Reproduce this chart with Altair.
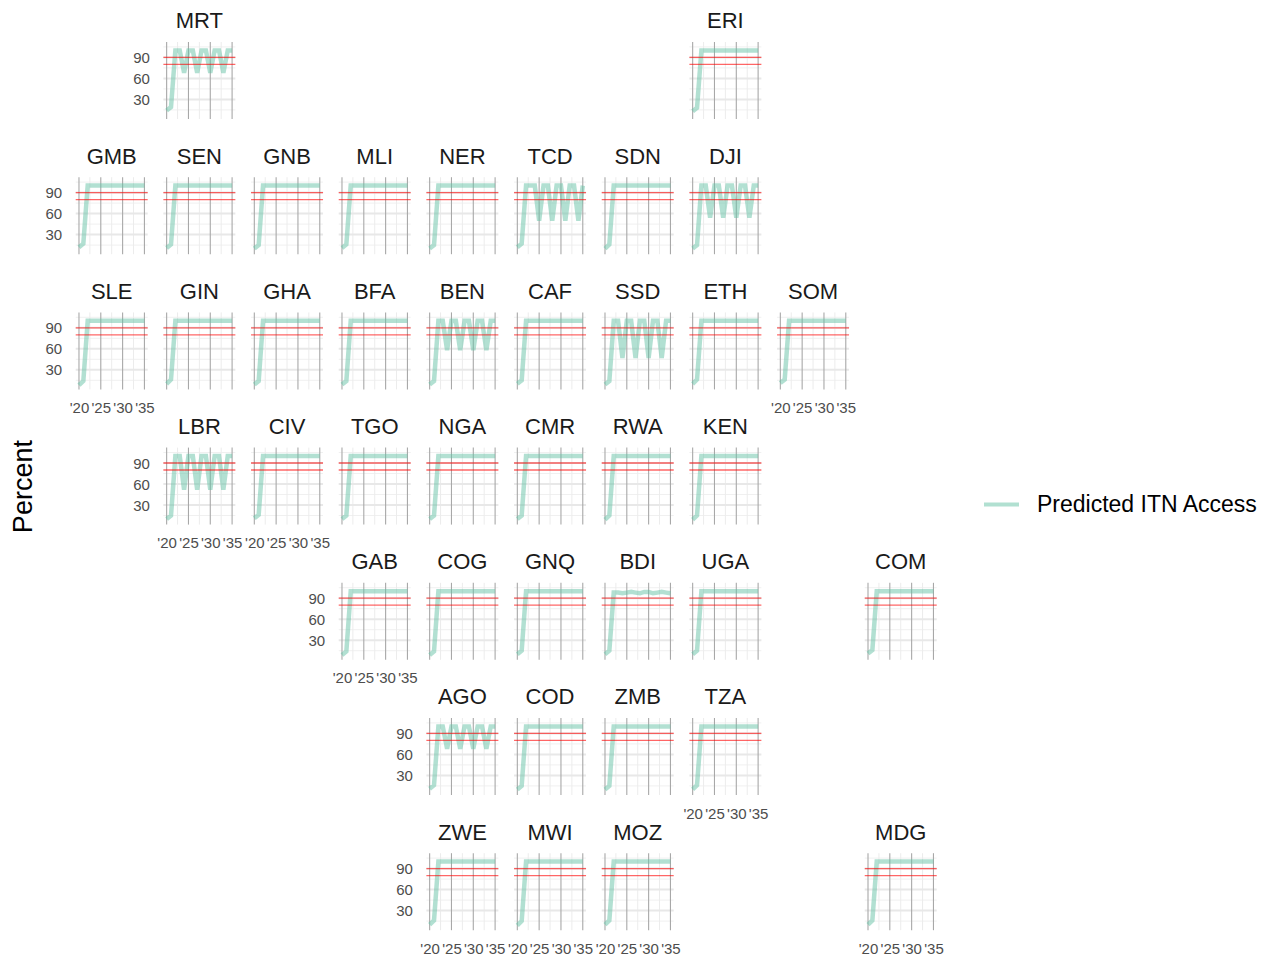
import altair as alt
import pandas as pd

# ---------------- data ----------------
YEARS = [2020, 2021, 2022, 2023, 2024, 2025, 2026, 2027, 2028, 2029, 2030, 2031, 2032, 2033, 2034, 2035]

MRT = [14, 19, 100, 100, 68, 100, 100, 68, 100, 100, 68, 100, 100, 68, 100, 100]
ERI = [13, 18, 100, 100, 100, 100, 100, 100, 100, 100, 100, 100, 100, 100, 100, 100]
GMB = [12, 17, 100, 100, 100, 100, 100, 100, 100, 100, 100, 100, 100, 100, 100, 100]
SEN = [11, 16, 100, 100, 100, 100, 100, 100, 100, 100, 100, 100, 100, 100, 100, 100]
GNB = [10, 15, 100, 100, 100, 100, 100, 100, 100, 100, 100, 100, 100, 100, 100, 100]
MLI = [11, 16, 100, 100, 100, 100, 100, 100, 100, 100, 100, 100, 100, 100, 100, 100]
NER = [10, 15, 100, 100, 100, 100, 100, 100, 100, 100, 100, 100, 100, 100, 100, 100]
TCD = [12, 17, 100, 100, 100, 50, 100, 100, 50, 100, 100, 50, 100, 100, 50, 100]
SDN = [10, 16, 100, 100, 100, 100, 100, 100, 100, 100, 100, 100, 100, 100, 100, 100]
DJI = [10, 15, 100, 100, 54, 100, 100, 54, 100, 100, 54, 100, 100, 54, 100, 100]
SLE = [8, 14, 100, 100, 100, 100, 100, 100, 100, 100, 100, 100, 100, 100, 100, 100]
GIN = [10, 16, 100, 100, 100, 100, 100, 100, 100, 100, 100, 100, 100, 100, 100, 100]
GHA = [9, 14, 100, 100, 100, 100, 100, 100, 100, 100, 100, 100, 100, 100, 100, 100]
BFA = [9, 14, 100, 100, 100, 100, 100, 100, 100, 100, 100, 100, 100, 100, 100, 100]
BEN = [9, 14, 100, 100, 58, 100, 100, 58, 100, 100, 58, 100, 100, 58, 100, 100]
CAF = [10, 15, 100, 100, 100, 100, 100, 100, 100, 100, 100, 100, 100, 100, 100, 100]
SSD = [9, 14, 100, 100, 47, 100, 100, 47, 100, 100, 47, 100, 100, 47, 100, 100]
ETH = [10, 16, 100, 100, 100, 100, 100, 100, 100, 100, 100, 100, 100, 100, 100, 100]
SOM = [11, 16, 100, 100, 100, 100, 100, 100, 100, 100, 100, 100, 100, 100, 100, 100]
LBR = [10, 15, 100, 100, 52, 100, 100, 52, 100, 100, 52, 100, 100, 52, 100, 100]
CIV = [11, 16, 100, 100, 100, 100, 100, 100, 100, 100, 100, 100, 100, 100, 100, 100]
TGO = [10, 15, 100, 100, 100, 100, 100, 100, 100, 100, 100, 100, 100, 100, 100, 100]
NGA = [10, 15, 100, 100, 100, 100, 100, 100, 100, 100, 100, 100, 100, 100, 100, 100]
CMR = [10, 15, 100, 100, 100, 100, 100, 100, 100, 100, 100, 100, 100, 100, 100, 100]
RWA = [9, 15, 100, 100, 100, 100, 100, 100, 100, 100, 100, 100, 100, 100, 100, 100]
KEN = [9, 15, 100, 100, 100, 100, 100, 100, 100, 100, 100, 100, 100, 100, 100, 100]
GAB = [9, 14, 100, 100, 100, 100, 100, 100, 100, 100, 100, 100, 100, 100, 100, 100]
COG = [9, 14, 100, 100, 100, 100, 100, 100, 100, 100, 100, 100, 100, 100, 100, 100]
GNQ = [10, 15, 100, 100, 100, 100, 100, 100, 100, 100, 100, 100, 100, 100, 100, 100]
BDI = [10, 15, 98, 98, 97, 98, 99, 98, 97, 99, 99, 97, 98, 99, 98, 97]
UGA = [10, 15, 100, 100, 100, 100, 100, 100, 100, 100, 100, 100, 100, 100, 100, 100]
COM = [11, 16, 100, 100, 100, 100, 100, 100, 100, 100, 100, 100, 100, 100, 100, 100]
AGO = [11, 16, 100, 100, 68, 100, 100, 68, 100, 100, 68, 100, 100, 68, 100, 100]
COD = [10, 15, 100, 100, 100, 100, 100, 100, 100, 100, 100, 100, 100, 100, 100, 100]
ZMB = [10, 15, 100, 100, 100, 100, 100, 100, 100, 100, 100, 100, 100, 100, 100, 100]
TZA = [10, 16, 100, 100, 100, 100, 100, 100, 100, 100, 100, 100, 100, 100, 100, 100]
ZWE = [10, 16, 100, 100, 100, 100, 100, 100, 100, 100, 100, 100, 100, 100, 100, 100]
MWI = [9, 15, 100, 100, 100, 100, 100, 100, 100, 100, 100, 100, 100, 100, 100, 100]
MOZ = [10, 16, 100, 100, 100, 100, 100, 100, 100, 100, 100, 100, 100, 100, 100, 100]
MDG = [10, 16, 100, 100, 100, 100, 100, 100, 100, 100, 100, 100, 100, 100, 100, 100]

CODES = ["MRT", "ERI",
         "GMB", "SEN", "GNB", "MLI", "NER", "TCD", "SDN", "DJI",
         "SLE", "GIN", "GHA", "BFA", "BEN", "CAF", "SSD", "ETH", "SOM",
         "LBR", "CIV", "TGO", "NGA", "CMR", "RWA", "KEN",
         "GAB", "COG", "GNQ", "BDI", "UGA", "COM",
         "AGO", "COD", "ZMB", "TZA",
         "ZWE", "MWI", "MOZ", "MDG"]
SERIES = [MRT, ERI,
          GMB, SEN, GNB, MLI, NER, TCD, SDN, DJI,
          SLE, GIN, GHA, BFA, BEN, CAF, SSD, ETH, SOM,
          LBR, CIV, TGO, NGA, CMR, RWA, KEN,
          GAB, COG, GNQ, BDI, UGA, COM,
          AGO, COD, ZMB, TZA,
          ZWE, MWI, MOZ, MDG]
# geofacet grid (row, col)
GRID_ROW = [0, 0,
            1, 1, 1, 1, 1, 1, 1, 1,
            2, 2, 2, 2, 2, 2, 2, 2, 2,
            3, 3, 3, 3, 3, 3, 3,
            4, 4, 4, 4, 4, 4,
            5, 5, 5, 5,
            6, 6, 6, 6]
GRID_COL = [1, 7,
            0, 1, 2, 3, 4, 5, 6, 7,
            0, 1, 2, 3, 4, 5, 6, 7, 8,
            1, 2, 3, 4, 5, 6, 7,
            3, 4, 5, 6, 7, 9,
            4, 5, 6, 7,
            4, 5, 6, 9]

TARGETS = [80, 90]
X_MAJOR = [2020, 2025, 2030, 2035]
X_MINOR = [2022.5, 2027.5, 2032.5]
Y_MAJOR = [30, 60, 90]
Y_MINOR = [15, 45, 75, 105]
SERIES_NAME = "Predicted ITN Access"

# ---------------- build tables ----------------
recs = []
for code, vals in zip(CODES, SERIES):
    for yr, v in zip(YEARS, vals):
        recs.append({"country": code, "year": yr, "value": v, "series": SERIES_NAME})
df = pd.DataFrame(recs)
df_xmaj = pd.DataFrame({"x": X_MAJOR})
df_xmin = pd.DataFrame({"x": X_MINOR})
df_ymaj = pd.DataFrame({"y": Y_MAJOR})
df_ymin = pd.DataFrame({"y": Y_MINOR})
df_tgt = pd.DataFrame({"y": TARGETS})
blank_df = pd.DataFrame({"v": [0]})

FONT = "Liberation Sans"
W, H = 72, 77
NROW, NCOL = 7, 10
SP_ROW, SP_COL = 58.2, 15.67
GRID_H = NROW * H + (NROW - 1) * SP_ROW
XDOM = [2019.25, 2035.75]
YDOM = [2, 112]

pos = {(r, c): code for code, r, c in zip(CODES, GRID_ROW, GRID_COL)}
first_in_row = {}
last_in_col = {}
for code, r, c in zip(CODES, GRID_ROW, GRID_COL):
    if r not in first_in_row or c < first_in_row[r][1]:
        first_in_row[r] = (code, c)
    if c not in last_in_col or r > last_in_col[c][1]:
        last_in_col[c] = (code, r)
show_y = {v[0] for v in first_in_row.values()}
show_x = {v[0] for v in last_in_col.values()}

color_scale = alt.Scale(domain=[SERIES_NAME], range=["#66c2a5"])
legend = alt.Legend(title=None, orient="none", legendX=937, legendY=443,
                    symbolType="stroke", symbolStrokeWidth=4, symbolOpacity=0.5,
                    symbolSize=1225, labelFontSize=23, labelFont=FONT, labelLimit=500,
                    labelColor="black", labelOffset=16)


def panel(code):
    xs = alt.Scale(domain=XDOM, nice=False, zero=False)
    ys = alt.Scale(domain=YDOM, nice=False, zero=False)
    if code in show_x:
        xax = alt.Axis(values=X_MAJOR, labelExpr="\"'\" + substring(toString(datum.value), 2, 4)",
                       ticks=False, domain=False, grid=False, title=None, labelPadding=11,
                       labelFontSize=15, labelColor="#4d4d4d", labelFont=FONT, labelOverlap=False,
                       labelFlush=False)
    else:
        xax = None
    if code in show_y:
        yax = alt.Axis(values=Y_MAJOR, ticks=False, domain=False, grid=False, title=None,
                       labelPadding=14, labelFontSize=15, labelColor="#4d4d4d", labelFont=FONT)
    else:
        yax = None

    vmin = alt.Chart(df_xmin).mark_rule(color="#ececec", strokeWidth=1).encode(
        x=alt.X("x:Q", scale=xs, axis=xax))
    hmin = alt.Chart(df_ymin).mark_rule(color="#f0f0f0", strokeWidth=1).encode(
        y=alt.Y("y:Q", scale=ys, axis=yax))
    hmaj = alt.Chart(df_ymaj).mark_rule(color="#e8e8e8", strokeWidth=2).encode(
        y=alt.Y("y:Q", scale=ys, axis=yax))
    vmaj = alt.Chart(df_xmaj).mark_rule(color="#a8a8a8", strokeWidth=1.1).encode(
        x=alt.X("x:Q", scale=xs, axis=xax))
    line = alt.Chart(df).transform_filter(alt.datum.country == code).mark_line(
        strokeWidth=4.5, opacity=0.5).encode(
        x=alt.X("year:Q", scale=xs, axis=xax),
        y=alt.Y("value:Q", scale=ys, axis=yax),
        color=alt.Color("series:N", scale=color_scale, legend=legend))
    tgt = alt.Chart(df_tgt).mark_rule(color="#ff0000", strokeWidth=1.3, opacity=0.6).encode(
        y=alt.Y("y:Q", scale=ys, axis=yax))
    return alt.layer(hmin, vmin, hmaj, vmaj, line, tgt).properties(
        width=W, height=H,
        title=alt.TitleParams(code, fontSize=22, font=FONT, fontWeight="normal",
                              color="#1a1a1a", anchor="middle", frame="group", offset=8))


def blank():
    return alt.Chart(blank_df).mark_point(opacity=0).encode(
        x=alt.X("v:Q", axis=None), y=alt.Y("v:Q", axis=None)).properties(width=W, height=H)


cells = []
for r in range(NROW):
    for c in range(NCOL):
        code = pos.get((r, c))
        cells.append(panel(code) if code else blank())

grid = alt.concat(*cells, columns=NCOL, spacing={"row": SP_ROW, "column": SP_COL}, bounds="flush")

pct = alt.Chart(blank_df).mark_point(opacity=0).encode(
    y=alt.Y("v:Q", axis=alt.Axis(title="Percent", labels=False, ticks=False, domain=False,
                                 grid=False, titleFontSize=27, titleFont=FONT,
                                 titleColor="black", titleFontWeight="normal", titlePadding=8))
).properties(width=1, height=GRID_H)

chart = alt.hconcat(pct, grid, spacing=29.7, bounds="flush").properties(
    padding={"left": 1, "top": 2, "right": 5, "bottom": 5}
).configure(background="white").configure_view(strokeWidth=0, strokeOpacity=0)

chart.save("out.html", embed_options={"renderer": "svg", "actions": False})
